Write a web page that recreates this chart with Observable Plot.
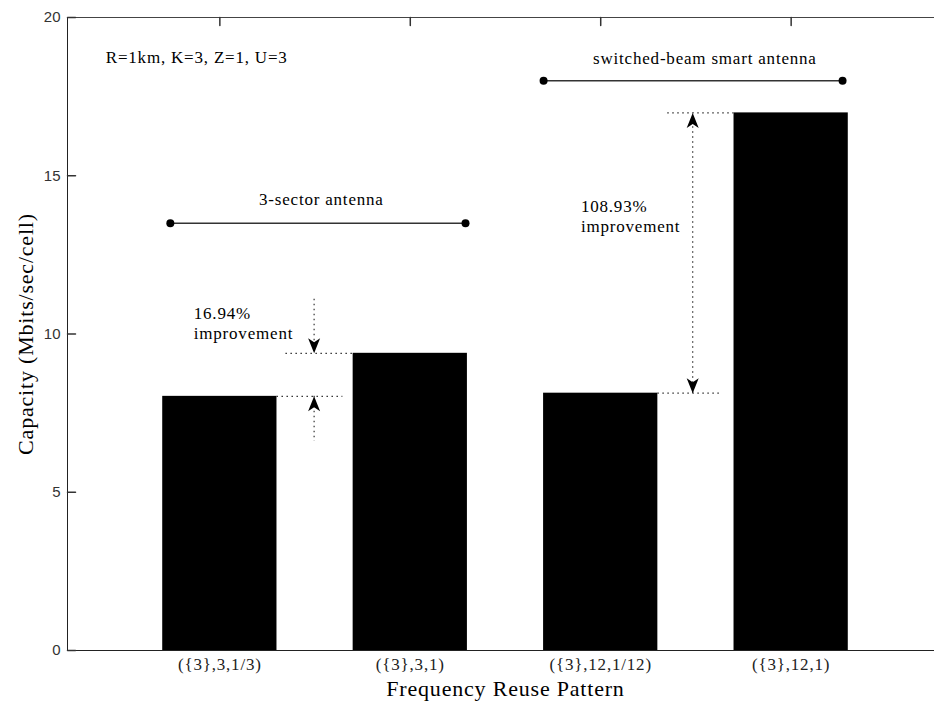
<!DOCTYPE html>
<html>
<head>
<meta charset="utf-8">
<script src="https://cdn.jsdelivr.net/npm/d3@7"></script>
<script src="https://cdn.jsdelivr.net/npm/@observablehq/plot@0.6"></script>
<style>
  html, body { margin: 0; padding: 0; background: #fff; overflow: hidden; }
  #chart text { letter-spacing: 0.8px; }
  #chart g[aria-label="y-axis tick label"] text { letter-spacing: 0; }
</style>
</head>
<body>
<div id="chart"></div>
<script>
// Frequency reuse patterns and their capacity (Mbits/sec/cell)
const categories = ["({3},3,1/3)", "({3},3,1)", "({3},12,1/12)", "({3},12,1)"];
const capacity = [8.03, 9.39, 8.13, 16.986];
const yTicks = [0, 5, 10, 15, 20];

const xTitle = "Frequency Reuse Pattern";
const yTitle = "Capacity (Mbits/sec/cell)";

// Free-standing notes, in data coordinates
const leftNotes = [
  {x: 0.401, y: 18.77, text: "R=1km, K=3, Z=1, U=3"},
  {x: 0.863, y: 10.37, text: "16.94%\nimprovement"},
  {x: 2.896, y: 13.74, text: "108.93%\nimprovement"}
];
const centeredNotes = [
  {x: 1.533, y: 14.24, text: "3-sector antenna"},
  {x: 3.547, y: 18.71, text: "switched-beam smart antenna"}
];

// Group brackets (line with dot ends)
const brackets = [
  {from: 0.74, to: 2.29, level: 13.5},
  {from: 2.70, to: 4.27, level: 18.0}
];

const barHalf = 0.3;
const rows = categories.map((label, i) => ({pos: i + 1, label, capacity: capacity[i]}));

// Dotted guides marking the capacity gain between pairs of bars
const hGuides = [
  {y: capacity[0], x1: 1 + barHalf, x2: 1.646},
  {y: capacity[1], x1: 1.347, x2: 2 - barHalf},
  {y: capacity[2], x1: 3 + barHalf, x2: 3.64},
  {y: capacity[3], x1: 3.352, x2: 4 - barHalf}
];
const vGuides = [
  {x: 1.495, y1: 11.1, y2: capacity[1]},
  {x: 1.495, y1: capacity[0], y2: 6.6},
  {x: 3.483, y1: capacity[2], y2: capacity[3]}
];
const arrows = [
  {x: 1.495, y: capacity[1], dir: "down"},
  {x: 1.495, y: capacity[0], dir: "up"},
  {x: 3.483, y: capacity[3], dir: "up"},
  {x: 3.483, y: capacity[2], dir: "down"}
];

// Notched arrowhead with its tip at the origin, pointing up
const arrowHead = {
  draw(ctx) {
    ctx.moveTo(0, 0);
    ctx.lineTo(6, 15);
    ctx.lineTo(0, 11);
    ctx.lineTo(-6, 15);
    ctx.closePath();
  }
};
// Plain tick stroke for inward-facing ticks
const tickShape = {
  draw(ctx, l) { ctx.moveTo(0, 0); ctx.lineTo(0, -l); }
};

const serif = "'Liberation Serif', 'Times New Roman', serif";
const sans = "'Liberation Sans', Arial, sans-serif";

// The axes box runs past the right edge of the page, so its right side is not drawn
const chart = Plot.plot({
  width: 934,
  height: 704,
  marginLeft: 67,
  marginRight: 0,
  marginTop: 17,
  marginBottom: 54,
  style: {fontFamily: serif, fontSize: "17px", color: "#000", background: "#fff", maxWidth: "none"},
  x: {domain: [0.2, 4.8], range: [67, 943]},
  y: {domain: [0, 20]},
  marks: [
    Plot.rectY(rows, {x1: d => d.pos - barHalf, x2: d => d.pos + barHalf, y: "capacity", fill: "#000"}),
    Plot.frame({anchor: "top", stroke: "#444"}),
    Plot.frame({anchor: "bottom", stroke: "#222"}),
    Plot.frame({anchor: "left", stroke: "#222"}),
    // inward ticks on left and top edges
    Plot.vector(yTicks, {y: d => d, frameAnchor: "left", rotate: 90, length: 8, anchor: "start", shape: tickShape, stroke: "#333"}),
    Plot.vector(rows, {x: "pos", frameAnchor: "top", rotate: 180, length: 8, anchor: "start", shape: tickShape, stroke: "#333"}),
    Plot.axisY({ticks: yTicks, tickSize: 0, tickPadding: 7, label: null, fontFamily: sans, fontSize: 15, fill: "#333"}),
    Plot.axisX({ticks: rows.map(d => d.pos), tickFormat: i => categories[i - 1], tickSize: 0, tickPadding: 7, label: null, fontFamily: serif, fontSize: 17, fill: "#222"}),
    Plot.text([xTitle], {x: 2.5, frameAnchor: "bottom", dy: 38, textAnchor: "middle", lineAnchor: "middle", fontFamily: serif, fontSize: 22}),
    Plot.text([yTitle], {frameAnchor: "left", dx: -42, rotate: -90, textAnchor: "middle", lineAnchor: "middle", fontFamily: serif, fontSize: 22}),
    // group brackets
    Plot.ruleY(brackets, {y: "level", x1: "from", x2: "to", stroke: "#333", strokeWidth: 1.5}),
    Plot.dot(brackets.flatMap(b => [{x: b.from, y: b.level}, {x: b.to, y: b.level}]), {x: "x", y: "y", r: 4, fill: "#000", stroke: "none"}),
    // gain guides
    Plot.ruleY(hGuides, {y: "y", x1: "x1", x2: "x2", stroke: "#333", strokeDasharray: "1.5 3.5", strokeWidth: 1.2}),
    Plot.ruleX(vGuides, {x: "x", y1: "y1", y2: "y2", stroke: "#333", strokeDasharray: "1.5 3.5", strokeWidth: 1.2}),
    Plot.dot(arrows, {x: "x", y: "y", symbol: arrowHead, rotate: d => d.dir === "down" ? 180 : 0, r: 5, fill: "#000", stroke: "none"}),
    Plot.text(leftNotes, {x: "x", y: "y", text: "text", textAnchor: "start", lineAnchor: "middle", lineHeight: 1.18, fontFamily: serif, fontSize: 17, fill: "#000"}),
    Plot.text(centeredNotes, {x: "x", y: "y", text: "text", textAnchor: "middle", lineAnchor: "middle", fontFamily: serif, fontSize: 17, fill: "#000"})
  ]
});

document.getElementById("chart").append(chart);
</script>
</body>
</html>
